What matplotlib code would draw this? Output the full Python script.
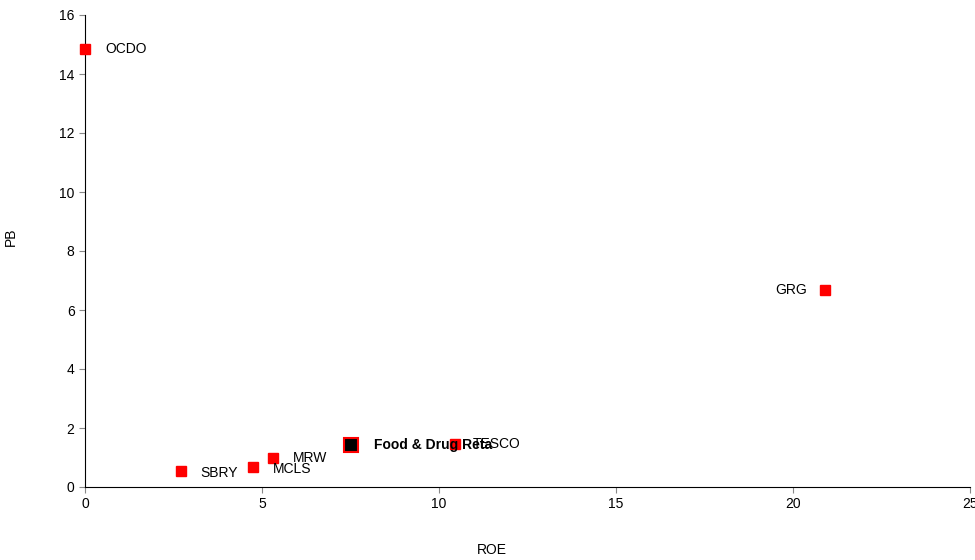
import matplotlib.pyplot as plt

plt.rcParams['font.family'] = ['Liberation Sans', 'DejaVu Sans']

names = ["OCDO", "GRG", "SBRY", "MCLS", "MRW", "TESCO"]
roe = [0.0, 20.9, 2.7, 4.75, 5.3, 10.45]
pb = [14.85, 6.68, 0.55, 0.68, 0.99, 1.47]
# label offsets in pixels
offsets = [(20, 0), (-50, 0), (20, -2), (20, -2), (20, 0), (18, 0)]

sector_name = "Food & Drug Reta"
sector_roe = 7.5
sector_pb = 1.43

fig = plt.figure(figsize=(9.75, 5.6), dpi=100)
ax = fig.add_axes([85 / 975, 1 - 487 / 560, 885 / 975, 472 / 560])

ax.plot(roe, pb, "s", color="#ff0000", markersize=7, linestyle="none",
        clip_on=False, zorder=3)
ax.plot([sector_roe], [sector_pb], "s", markerfacecolor="black",
        markeredgecolor="#ff0000", markeredgewidth=1.5, markersize=9.5,
        clip_on=False, zorder=3)

for n, x, y, (dx, dy) in zip(names, roe, pb, offsets):
    ax.annotate(n, (x, y), xytext=(dx, dy), textcoords="offset pixels",
                va="center", ha="left", fontsize=10)
ax.annotate(sector_name, (sector_roe, sector_pb), xytext=(23, 0),
            textcoords="offset pixels", va="center", ha="left",
            fontsize=10, fontweight="bold")

ax.set_xlim(0, 25)
ax.set_ylim(0, 16)
ax.set_xticks(range(0, 26, 5))
ax.set_yticks(range(0, 17, 2))
ax.spines["top"].set_visible(False)
ax.spines["right"].set_visible(False)
ax.tick_params(labelsize=10, length=4, color="#888888")
ax.set_xlabel("ROE", fontsize=10)
ax.set_ylabel("PB", fontsize=10)
ax.xaxis.set_label_coords(0.46, -0.118)
ax.yaxis.set_label_coords(-0.076, 0.53)

fig.savefig("out.png", dpi=100)
